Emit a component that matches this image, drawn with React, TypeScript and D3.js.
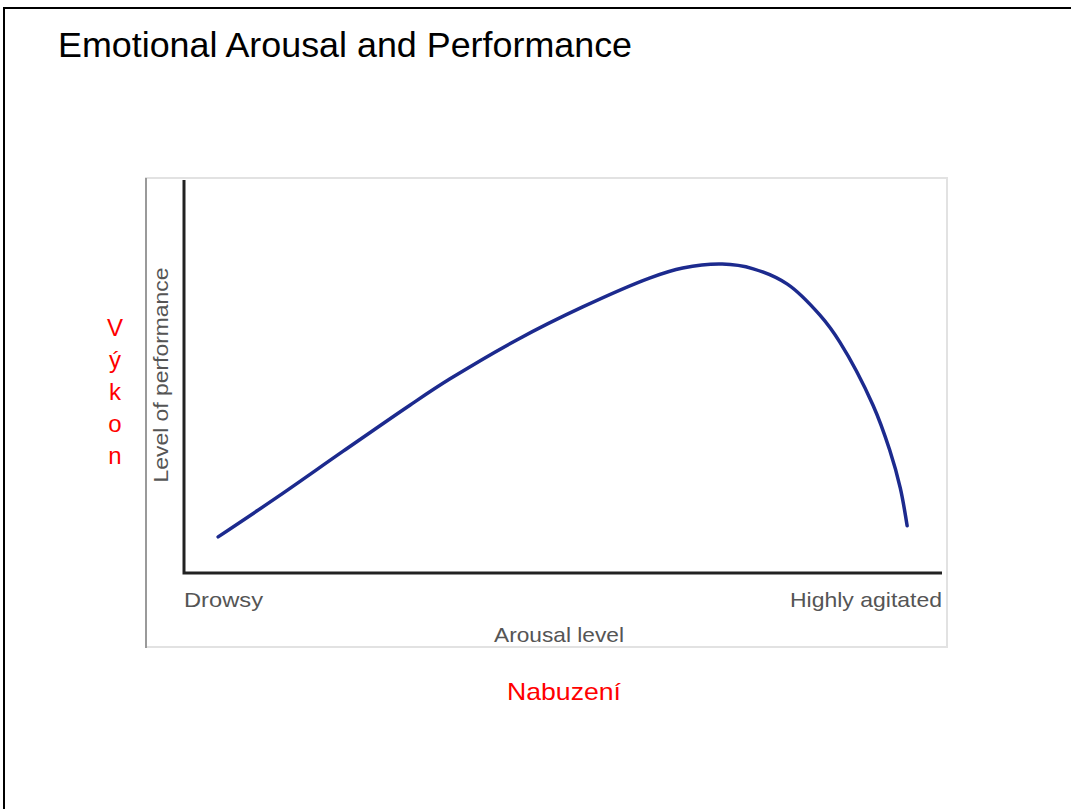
import React from 'react';
import * as d3 from 'd3';

// arousal (0-100) and performance (0-100)
const arousal = [4.5, 12.3, 21.0, 29.8, 35.1, 43.9, 52.6, 61.5, 65.8, 71.0, 75.1, 79.6, 83.9, 86.5, 90.9, 93.1, 94.5, 95.4];
const performance = [9.2, 19.3, 31.0, 42.7, 49.4, 59.3, 67.7, 75.1, 77.6, 78.6, 77.4, 73.5, 65.6, 58.8, 42.7, 31.3, 21.6, 12.0];

const xEndLabels = ['Drowsy', 'Highly agitated'];
const xTitle = 'Arousal level';
const yTitle = 'Level of performance';
const title = 'Emotional Arousal and Performance';
const redY = 'Výkon';
const redX = 'Nabuzení';

const W = 1071;
const H = 809;

export default function App() {
  const ref = React.useRef<SVGSVGElement>(null);

  React.useEffect(() => {
    const svg = d3.select(ref.current);
    svg.selectAll('*').remove();

    const font = '"Liberation Sans", Arial, sans-serif';
    const x = d3.scaleLinear().domain([0, 100]).range([184, 942]);
    const y = d3.scaleLinear().domain([0, 100]).range([573, 180]);

    // slide border
    svg.append('path')
      .attr('d', `M4,${H} L4,8 L${W},8`)
      .attr('fill', 'none')
      .attr('stroke', '#000')
      .attr('stroke-width', 2);

    svg.append('text')
      .attr('x', 58)
      .attr('y', 57)
      .attr('font-family', font)
      .attr('font-size', 35)
      .attr('textLength', 574)
      .attr('lengthAdjust', 'spacingAndGlyphs')
      .attr('fill', '#000')
      .text(title);

    // inner picture frame
    svg.append('rect')
      .attr('x', 146).attr('y', 178)
      .attr('width', 801).attr('height', 469)
      .attr('fill', '#fff')
      .attr('stroke', '#e2e2e2')
      .attr('stroke-width', 2);
    svg.append('line')
      .attr('x1', 146).attr('x2', 146)
      .attr('y1', 178).attr('y2', 648)
      .attr('stroke', '#9a9a9a')
      .attr('stroke-width', 2);

    // axes
    svg.append('path')
      .attr('d', `M${x(0)},${y(100)} L${x(0)},${y(0)} L${x(100)},${y(0)}`)
      .attr('fill', 'none')
      .attr('stroke', '#222')
      .attr('stroke-width', 3);

    const line = d3.line<number>()
      .x((d, i) => x(arousal[i]))
      .y(d => y(d))
      .curve(d3.curveCatmullRom.alpha(0.5));

    svg.append('path')
      .datum(performance)
      .attr('d', line)
      .attr('fill', 'none')
      .attr('stroke', '#1c2a8e')
      .attr('stroke-width', 3.5)
      .attr('stroke-linecap', 'round');

    const gray = '#555';
    const label = (tx: number, ty: number, anchor: string, len: number, s: string) =>
      svg.append('text')
        .attr('x', tx).attr('y', ty)
        .attr('text-anchor', anchor)
        .attr('font-family', font).attr('font-size', 21).attr('fill', gray)
        .attr('textLength', len)
        .attr('lengthAdjust', 'spacingAndGlyphs')
        .text(s);
    label(x(0), 607, 'start', 79, xEndLabels[0]);
    label(x(100), 607, 'end', 152, xEndLabels[1]);
    label(559, 642, 'middle', 130, xTitle);
    label(0, 0, 'middle', 215, yTitle)
      .attr('transform', 'translate(168,375) rotate(-90)');

    // red annotations
    svg.selectAll('.vy')
      .data(redY.split(''))
      .enter().append('text')
      .attr('x', 115)
      .attr('y', (d, i) => 336 + i * 32)
      .attr('text-anchor', 'middle')
      .attr('font-family', font).attr('font-size', 24).attr('fill', '#ff0000')
      .text(d => d);
    svg.append('text')
      .attr('x', 564).attr('y', 700)
      .attr('text-anchor', 'middle')
      .attr('font-family', font).attr('font-size', 24).attr('fill', '#ff0000')
      .attr('textLength', 114)
      .attr('lengthAdjust', 'spacingAndGlyphs')
      .text(redX);
  }, []);

  return (
    <svg
      ref={ref}
      width={W}
      height={H}
      style={{ position: 'absolute', left: 0, top: 0, background: '#fff' }}
    />
  );
}
